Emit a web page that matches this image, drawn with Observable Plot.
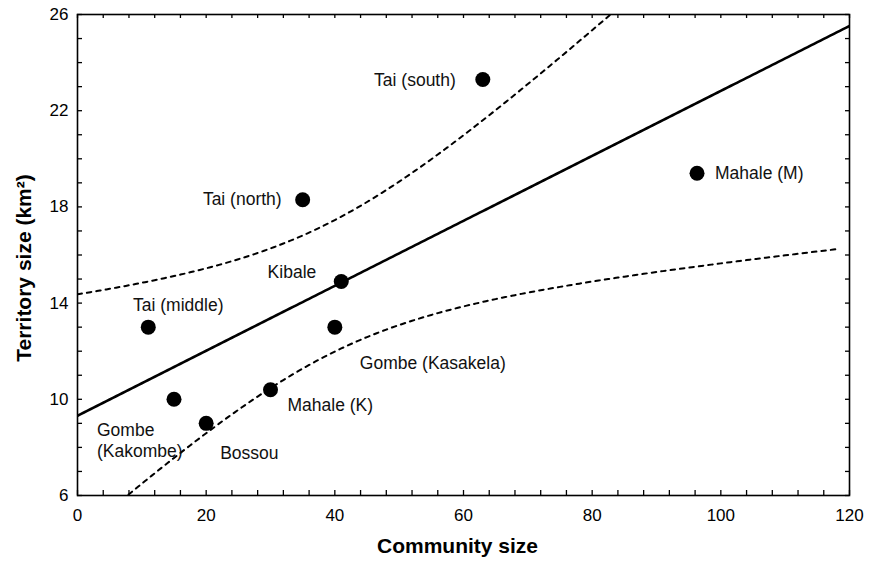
<!DOCTYPE html>
<html>
<head>
<meta charset="utf-8">
<script src="https://cdn.jsdelivr.net/npm/d3@7"></script>
<script src="https://cdn.jsdelivr.net/npm/@observablehq/plot@0.6"></script>
<style>
  html, body { margin: 0; padding: 0; background: #fff; }
  #chart svg { display: block; }
</style>
</head>
<body>
<div id="chart"></div>
<script>
// ---- Data ----
const communities = ["Tai (south)", "Mahale (M)", "Tai (north)", "Kibale", "Tai (middle)",
                     "Gombe (Kasakela)", "Gombe (Kakombe)", "Mahale (K)", "Bossou"];
const communitySize = [63, 96.3, 35, 41, 11, 40, 15, 30, 20];
const territorySize = [23.3, 19.4, 18.3, 14.9, 13.0, 13.0, 10.0, 10.4, 9.0];

const xTickLabels = [0, 20, 40, 60, 80, 100, 120];
const yTickLabels = [6, 10, 14, 18, 22, 26];
const xMinorTicks = d3.range(0, 121, 4);
const yMinorTicks = d3.range(6, 27, 1);

const data = communities.map((name, i) => ({name, x: communitySize[i], y: territorySize[i]}));

// ---- Least-squares fit with 95% confidence band of the mean (derived from data) ----
const n = data.length;
const mx = d3.mean(data, d => d.x), my = d3.mean(data, d => d.y);
const sxx = d3.sum(data, d => (d.x - mx) ** 2);
const sxy = d3.sum(data, d => (d.x - mx) * (d.y - my));
const slope = sxy / sxx, intercept = my - slope * mx;
const sse = d3.sum(data, d => (d.y - (intercept + slope * d.x)) ** 2);
const s = Math.sqrt(sse / (n - 2));
const tCrit = 2.364624; // t(0.975, df = 7)
const grid = d3.range(0, 120.01, 0.5);
const fit = grid.map(x => {
  const yh = intercept + slope * x;
  const hw = tCrit * s * Math.sqrt(1 / n + (x - mx) ** 2 / sxx);
  return {x, y: yh, lo: yh - hw, hi: yh + hw};
});
const fitLower = fit.filter(d => d.x <= 118.75);

// ---- Layout ----
const W = 869, H = 561, ML = 77, MR = 20, MT = 14, MB = 66;
const FW = W - ML - MR, FH = H - MT - MB;
const TICK = 5;

const placement = {
  "Tai (south)":      {dx: -27, dy: 0,   anchor: "end"},
  "Mahale (M)":       {dx: 18,  dy: -1,  anchor: "start"},
  "Tai (north)":      {dx: -21, dy: -1,  anchor: "end"},
  "Kibale":           {dx: -25, dy: -10, anchor: "end"},
  "Tai (middle)":     {dx: 30,  dy: -23, anchor: "middle"},
  "Gombe (Kasakela)": {dx: 25,  dy: 35,  anchor: "start"},
  "Gombe (Kakombe)":  {dx: -77, dy: 40,  anchor: "start", wrap: true},
  "Mahale (K)":       {dx: 17,  dy: 15,  anchor: "start"},
  "Bossou":           {dx: 14,  dy: 29,  anchor: "start"}
};

const labelMarks = data.map(d => {
  const p = placement[d.name];
  return Plot.text([d], {
    x: "x", y: "y",
    text: p.wrap ? (e => e.name.replace(" (", "\n(")) : "name",
    dx: p.dx, dy: p.dy, textAnchor: p.anchor,
    lineHeight: 1.2, fontSize: 17.5, fill: "#111"
  });
});

const tickStyle = {stroke: "#000", strokeWidth: 1.3};

const chart = Plot.plot({
  width: W, height: H,
  marginLeft: ML, marginRight: MR, marginTop: MT, marginBottom: MB,
  x: {domain: [0, 120]},
  y: {domain: [6, 26]},
  style: {fontFamily: "'Liberation Sans', Arial, Helvetica, sans-serif", fontSize: "17px", color: "#000", background: "#fff"},
  marks: [
    // inward minor ticks on all four sides
    Plot.tickX(xMinorTicks, {x: d => d, insetTop: FH - TICK, ...tickStyle}),
    Plot.tickX(xMinorTicks, {x: d => d, insetBottom: FH - TICK + 1, ...tickStyle}),
    Plot.tickY(yMinorTicks, {y: d => d, insetRight: FW - TICK, ...tickStyle}),
    Plot.tickY(yMinorTicks, {y: d => d, insetLeft: FW - TICK + 1, ...tickStyle}),
    // tick labels
    Plot.axisX({anchor: "bottom", ticks: xTickLabels, tickSize: 0, tickPadding: 13, label: null, fontSize: 17}),
    Plot.axisY({anchor: "left", ticks: yTickLabels, tickSize: 0, tickPadding: 9, label: null, fontSize: 17}),
    // regression and confidence band
    Plot.line(fit, {x: "x", y: "hi", stroke: "#000", strokeWidth: 2, strokeDasharray: "4.5,5", clip: true}),
    Plot.line(fitLower, {x: "x", y: "lo", stroke: "#000", strokeWidth: 2, strokeDasharray: "4.5,5", clip: true}),
    Plot.line(fit, {x: "x", y: "y", stroke: "#000", strokeWidth: 2.6, clip: true}),
    // points
    Plot.dot(data, {x: "x", y: "y", r: 7.5, fill: "#000", stroke: null}),
    ...labelMarks,
    Plot.frame({stroke: "#000", strokeWidth: 1.6}),
    // axis titles
    Plot.text(["Community size"], {frameAnchor: "bottom", lineAnchor: "middle", textAnchor: "middle", dx: -6, dy: 51,
      fontWeight: "bold", fontSize: 21, fill: "#000"}),
    Plot.text(["Territory size (km²)"], {frameAnchor: "left", lineAnchor: "middle", textAnchor: "middle", rotate: -90, dx: -53, dy: 13,
      fontWeight: "bold", fontSize: 21, fill: "#000"})
  ]
});

document.getElementById("chart").appendChild(chart);
</script>
</body>
</html>
